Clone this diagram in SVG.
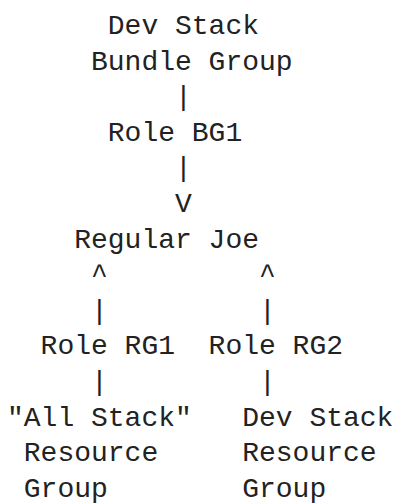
<svg xmlns="http://www.w3.org/2000/svg" width="399" height="504" viewBox="0 0 399 504">
<style>
text { font-family: "Liberation Mono", "DejaVu Sans Mono", monospace; font-size: 28px; fill: #222222; white-space: pre; }
</style>
<rect x="0" y="0" width="399" height="504" fill="#ffffff"/>
<g id="node-dev-stack-bundle-group">
<text x="107.8" y="34">Dev Stack</text>
<text x="91" y="69.6">Bundle Group</text>
</g>
<g id="node-regular-joe">
<text x="74.2" y="247.6">Regular Joe</text>
</g>
<g id="node-all-stack-resource-group">
<text x="7" y="425.6">"All Stack"</text>
<text x="23.8" y="461.2">Resource</text>
<text x="23.8" y="496.8">Group</text>
</g>
<g id="node-dev-stack-resource-group">
<text x="242.2" y="425.6">Dev Stack</text>
<text x="242.2" y="461.2">Resource</text>
<text x="242.2" y="496.8">Group</text>
</g>
<g id="connectors">
<text x="175" y="105.2">|</text>
<text x="107.8" y="140.8">Role BG1</text>
<text x="175" y="176.4">|</text>
<text x="175" y="212">V</text>
<text x="91" y="283.2">^</text>
<text x="259" y="283.2">^</text>
<text x="91" y="318.8">|</text>
<text x="259" y="318.8">|</text>
<text x="40.6" y="354.4">Role RG1</text>
<text x="208.6" y="354.4">Role RG2</text>
<text x="91" y="390">|</text>
<text x="259" y="390">|</text>
</g>
</svg>
